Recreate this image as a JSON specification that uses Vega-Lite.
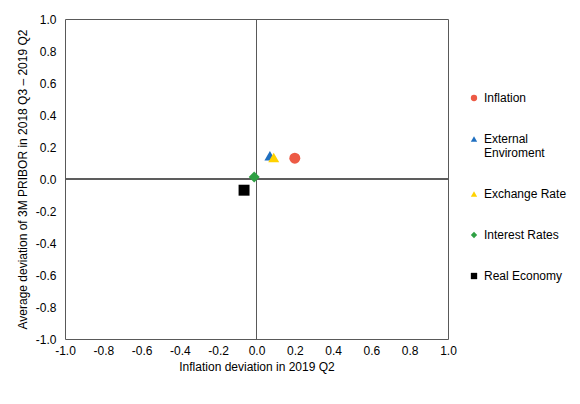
{
  "$schema": "https://vega.github.io/schema/vega-lite/v6.json",
  "width": 383,
  "height": 320,
  "autosize": "none",
  "padding": {"left": 65, "top": 19, "right": 132, "bottom": 65},
  "background": "white",
  "data": {
    "values": [
      {"factor": "Inflation", "infl": 0.2, "pribor": 0.13},
      {"factor": "External Enviroment", "infl": 0.07, "pribor": 0.145},
      {"factor": "Exchange Rate", "infl": 0.09, "pribor": 0.135},
      {"factor": "Interest Rates", "infl": -0.012, "pribor": 0.012},
      {"factor": "Real Economy", "infl": -0.065, "pribor": -0.07}
    ]
  },
  "layer": [
    {
      "mark": {"type": "rule", "color": "#595959", "strokeWidth": 1},
      "encoding": {"x": {"datum": 0, "type": "quantitative"}}
    },
    {
      "mark": {"type": "rule", "color": "#595959", "strokeWidth": 1},
      "encoding": {"y": {"datum": 0, "type": "quantitative"}}
    },
    {
      "mark": {"type": "point", "filled": true, "opacity": 1, "size": 120},
      "encoding": {
        "x": {
          "field": "infl",
          "type": "quantitative",
          "title": "Inflation deviation in 2019 Q2",
          "scale": {"domain": [-1, 1], "nice": false, "zero": false},
          "axis": {"labelPadding": 6, "titlePadding": 5}
        },
        "y": {
          "field": "pribor",
          "type": "quantitative",
          "title": "Average deviation of 3M PRIBOR in 2018 Q3 – 2019 Q2",
          "scale": {"domain": [-1, 1], "nice": false, "zero": false},
          "axis": {"labelPadding": 9, "titlePadding": 6}
        },
        "color": {
          "field": "factor",
          "type": "nominal",
          "sort": null,
          "title": null,
          "scale": {
            "domain": ["Inflation", "External Enviroment", "Exchange Rate", "Interest Rates", "Real Economy"],
            "range": ["#ED5A45", "#1F6FC0", "#FFD200", "#2EA043", "#000000"]
          },
          "legend": {
            "labelExpr": "datum.label == 'External Enviroment' ? ['External', 'Enviroment'] : datum.label"
          }
        },
        "shape": {
          "field": "factor",
          "type": "nominal",
          "sort": null,
          "title": null,
          "scale": {
            "domain": ["Inflation", "External Enviroment", "Exchange Rate", "Interest Rates", "Real Economy"],
            "range": ["circle", "triangle-up", "triangle-up", "diamond", "square"]
          },
          "legend": {
            "labelExpr": "datum.label == 'External Enviroment' ? ['External', 'Enviroment'] : datum.label"
          }
        }
      }
    }
  ],
  "config": {
    "font": "Liberation Sans",
    "view": {"stroke": "#595959", "strokeWidth": 1},
    "axis": {
      "values": [-1, -0.8, -0.6, -0.4, -0.2, 0, 0.2, 0.4, 0.6, 0.8, 1],
      "labelExpr": "replace(format(datum.value, '.1f'), '\u2212', '-')",
      "labelOverlap": false,
      "labelFlush": false,
      "grid": false,
      "ticks": false,
      "domain": false,
      "labelFont": "Liberation Sans",
      "labelFontSize": 12,
      "labelColor": "#000000",
      "titleFont": "Liberation Sans",
      "titleFontSize": 12,
      "titleFontWeight": "normal",
      "titleColor": "#000000"
    },
    "legend": {
      "orient": "none",
      "legendX": 403,
      "legendY": 73,
      "labelFont": "Liberation Sans",
      "labelFontSize": 12,
      "labelColor": "#000000",
      "labelBaseline": "middle",
      "labelLimit": 200,
      "symbolSize": 40,
      "symbolStrokeWidth": 0,
      "labelOffset": 4,
      "rowPadding": 29
    }
  }
}
